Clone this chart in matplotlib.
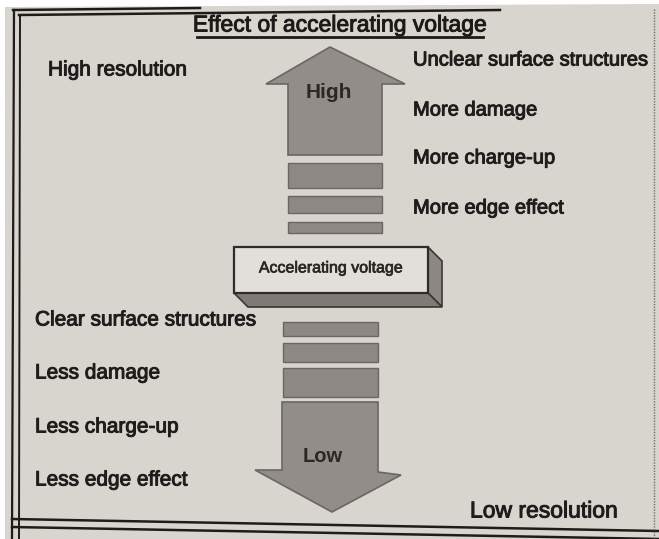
import matplotlib
matplotlib.use("Agg")
import matplotlib.pyplot as plt
import matplotlib.patheffects as pe
from matplotlib.patches import Polygon, Rectangle

plt.rcParams['font.family'] = ['Liberation Sans', 'DejaVu Sans']

title = "Effect of accelerating voltage"
high_side_label = "High resolution"
low_side_label = "Low resolution"
high_effects = ["Unclear surface structures", "More damage", "More charge-up", "More edge effect"]
low_effects = ["Clear surface structures", "Less damage", "Less charge-up", "Less edge effect"]
arrow_labels = ["High", "Low"]
center_label = "Accelerating voltage"

# layout (pixel coordinates, y downward)
high_y = [60, 110, 158, 208]
low_y = [320, 373, 427, 480]
up_bars = [(163, 188), (196, 213), (222, 233)]
down_bars = [(322, 336), (343, 362), (368, 397)]

W, H = 659, 539
fig = plt.figure(figsize=(W / 100, H / 100), dpi=100)
fig.patch.set_facecolor("white")
ax = fig.add_axes([0, 0, 1, 1])
ax.set_xlim(0, W)
ax.set_ylim(H, 0)
ax.axis("off")

paper = "#d8d4ce"
ax.add_patch(Polygon([(5, 7), (659, 4), (659, 539), (5, 539)], closed=True,
                     facecolor=paper, edgecolor="none", zorder=0))

# frame lines
lc = "#1e1c1a"
ax.plot([13, 200], [10, 8], color=lc, lw=1.8)
ax.plot([19, 500], [15, 10], color=lc, lw=1.8)
ax.plot([14, 12], [10, 539], color=lc, lw=1.6)
ax.plot([20, 19], [15, 539], color=lc, lw=1.4)
ax.plot([12, 659], [519, 531], color=lc, lw=1.8)
ax.plot([12, 659], [527, 539], color=lc, lw=1.8)
ax.plot([654, 654], [9, 539], color="#6f6b66", lw=1.0, ls=(0, (1, 1)))

heavy = [pe.withStroke(linewidth=0.7, foreground="#1f1d1b")]

# title
ax.text(340, 25, title, ha="center", va="center", fontsize=16.5, color="#1c1a18", path_effects=heavy)
ax.plot([197, 483], [37, 37], color="#1c1a18", lw=2.0)

arrow_fc = "#928d88"
arrow_ec = "#6a6661"
bar_fc = "#8d8883"

# up arrow
up = [(266, 84), (330, 47), (405, 84), (382, 84), (382, 155), (288, 155), (288, 84)]
ax.add_patch(Polygon(up, closed=True, facecolor=arrow_fc, edgecolor=arrow_ec, lw=1.2, zorder=2))
ax.text(329, 93, arrow_labels[0], ha="center", va="center", fontsize=15, fontweight="bold",
        color="#2a2826", zorder=3)
for y0, y1 in up_bars:
    ax.add_patch(Rectangle((288, y0), 94, y1 - y0, facecolor=bar_fc, edgecolor=arrow_ec, lw=1.0, zorder=2))

# down arrow
for y0, y1 in down_bars:
    ax.add_patch(Rectangle((283, y0), 95, y1 - y0, facecolor=bar_fc, edgecolor=arrow_ec, lw=1.0, zorder=2))
down = [(282, 402), (378, 402), (378, 472), (401, 475), (332, 512), (255, 470), (282, 470)]
ax.add_patch(Polygon(down, closed=True, facecolor=arrow_fc, edgecolor=arrow_ec, lw=1.2, zorder=2))
ax.text(323, 457, arrow_labels[1], ha="center", va="center", fontsize=14.5, fontweight="bold",
        color="#2a2826", zorder=3)

# 3D box
fx0, fx1, fy0, fy1 = 234, 428, 247, 293
dx, dy = 14, 14
side = [(fx1, fy0), (fx1 + dx, fy0 + dy), (fx1 + dx, fy1 + dy), (fx1, fy1)]
bottom = [(fx0, fy1), (fx1, fy1), (fx1 + dx, fy1 + dy), (fx0 + dx, fy1 + dy)]
ax.add_patch(Polygon(side, closed=True, facecolor="#8c8782", edgecolor="#3a3734", lw=1.2, zorder=4))
ax.add_patch(Polygon(bottom, closed=True, facecolor="#7f7a75", edgecolor="#3a3734", lw=1.2, zorder=4))
ax.add_patch(Rectangle((fx0, fy0), fx1 - fx0, fy1 - fy0, facecolor="#e2dfda", edgecolor="#2e2c2a", lw=1.6, zorder=5))
ax.text((fx0 + fx1) / 2, (fy0 + fy1) / 2 - 2, center_label, ha="center", va="center", fontsize=11.5,
        color="#2a2826", zorder=6, path_effects=[pe.withStroke(linewidth=0.5, foreground="#2a2826")])

# side texts
tc = "#1f1d1b"
ax.text(48, 70, high_side_label, ha="left", va="center", fontsize=15, color=tc, path_effects=heavy)
ax.text(470, 511, low_side_label, ha="left", va="center", fontsize=16.5, color=tc, path_effects=heavy)
for s, y in zip(high_effects, high_y):
    ax.text(413, y, s, ha="left", va="center", fontsize=14.5, color=tc, path_effects=heavy)
for s, y in zip(low_effects, low_y):
    ax.text(35, y, s, ha="left", va="center", fontsize=15, color=tc, path_effects=heavy)

fig.savefig("out.png", dpi=100, facecolor=fig.get_facecolor())
